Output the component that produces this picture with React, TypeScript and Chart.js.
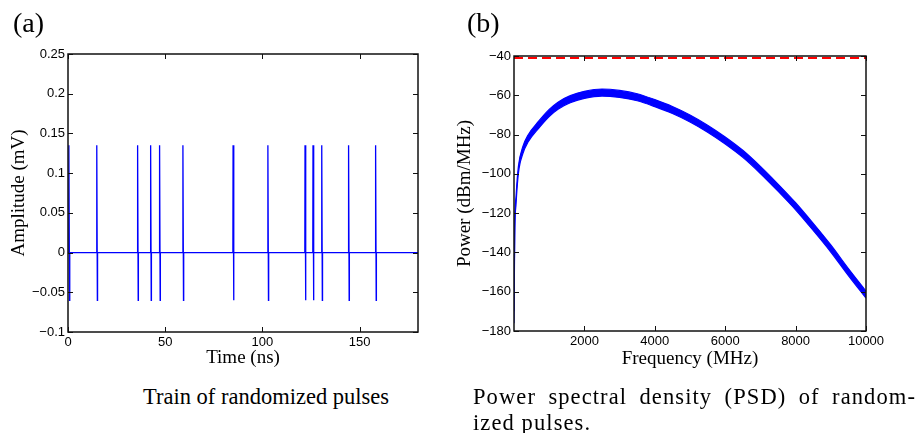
import React, { useEffect, useRef } from "react";
import { Chart, registerables } from "chart.js";

Chart.register(...registerables);

// ---------- Panel (a): train of randomized pulses ----------
const pulseTimes = [0.4, 14.7, 35.7, 42.4, 47.0, 59.0, 84.8, 102.7, 121.8, 125.9, 130.4, 144.2, 158.1];
const pulsePeak = 0.135;
const pulseTrough = -0.06;
const timeRange = [0, 180];
const timeTicks = [0, 50, 100, 150];
const ampRange = [-0.1, 0.25];
const ampTicks = [-0.1, -0.05, 0, 0.05, 0.1, 0.15, 0.2, 0.25];

// ---------- Panel (b): power spectral density (noise band: upper / lower edge) ----------
const freqMHz = [0, 20, 60, 125, 250, 400, 700, 1000, 1250, 1600, 2000, 2500, 3000, 3500, 4000, 4500, 5000, 5500, 6000, 6500, 7000, 7500, 8000, 8500, 9000, 9500, 10000];
const psdHigh = [-170, -127.5, -111, -96.2, -86.2, -80.2, -73.2, -67.2, -63.5, -60.2, -58.0, -56.8, -57.5, -59.2, -62.2, -65.7, -70.0, -75.2, -81.2, -88.0, -96.2, -105.2, -114.7, -125.2, -136.2, -148.2, -159.7];
const psdLow = [-176, -132.5, -115, -99.8, -89.8, -83.8, -76.8, -70.8, -67.1, -63.8, -61.6, -60.4, -61.1, -62.8, -65.8, -69.3, -73.6, -78.8, -84.8, -91.6, -99.8, -108.8, -118.3, -128.8, -139.8, -151.8, -163.3];
const refLevel = -41;
const freqRange = [0, 10000];
const freqTicks = [2000, 4000, 6000, 8000, 10000];
const powerRange = [-180, -40];
const powerTicks = [-180, -160, -140, -120, -100, -80, -60, -40];

const BLUE = "#0000ff";
const tickFont = { family: "'Liberation Sans', Arial, sans-serif", size: 13 };
const titleFont = { family: "'Liberation Serif', 'Times New Roman', serif", size: 19, lineHeight: 1 };

const fmt = (v: number) => {
  const r = Math.round(v * 1000) / 1000;
  if (r === 0) return "0";
  return String(r).replace("-", "\u2212");
};

const boxPlugin = {
  id: "matlabBox",
  afterDatasetsDraw(chart: any) {
    const { ctx, chartArea: a, scales } = chart;
    const L = 5;
    ctx.save();
    ctx.strokeStyle = "#111";
    ctx.lineWidth = 1;
    ctx.beginPath();
    scales.x.ticks.forEach((t: any) => {
      const px = Math.round(scales.x.getPixelForValue(t.value)) + 0.5;
      ctx.moveTo(px, a.bottom);
      ctx.lineTo(px, a.bottom - L);
      ctx.moveTo(px, a.top);
      ctx.lineTo(px, a.top + L);
    });
    scales.y.ticks.forEach((t: any) => {
      const py = Math.round(scales.y.getPixelForValue(t.value)) + 0.5;
      ctx.moveTo(a.left, py);
      ctx.lineTo(a.left + L, py);
      ctx.moveTo(a.right, py);
      ctx.lineTo(a.right - L, py);
    });
    ctx.stroke();
    ctx.lineWidth = 1.5;
    ctx.strokeStyle = "#111";
    ctx.strokeRect(a.left, a.top, a.right - a.left, a.bottom - a.top);
    ctx.restore();
  },
};

function axis(
  range: number[],
  ticks: number[],
  title: string,
  fitSize: number,
  isX: boolean,
  titlePad: number,
  hideZeroLabel = false
) {
  return {
    type: "linear",
    min: range[0],
    max: range[1],
    grid: { display: false, drawTicks: false },
    border: { display: false },
    afterBuildTicks: (s: any) => {
      s.ticks = ticks.map((v) => ({ value: v }));
    },
    afterFit: (s: any) => {
      if (isX) s.height = fitSize;
      else s.width = fitSize;
    },
    ticks: {
      font: tickFont,
      color: "#000",
      padding: 3,
      maxRotation: 0,
      autoSkip: false,
      callback: (v: any) => (hideZeroLabel && v === 0 ? "" : fmt(Number(v))),
    },
    title: {
      display: true,
      text: title,
      color: "#000",
      font: titleFont,
      padding: isX ? { top: 0, bottom: titlePad } : { top: titlePad, bottom: 0 },
    },
  };
}

function PulseChart() {
  const ref = useRef<HTMLCanvasElement>(null);
  useEffect(() => {
    const pts: { x: number; y: number }[] = [{ x: timeRange[0], y: 0 }];
    pulseTimes.forEach((t) => {
      pts.push({ x: t, y: 0 }, { x: t + 0.1, y: pulsePeak }, { x: t + 0.4, y: pulseTrough }, { x: t + 0.5, y: 0 });
    });
    pts.push({ x: timeRange[1], y: 0 });
    const chart = new Chart(ref.current as HTMLCanvasElement, {
      type: "line",
      data: {
        datasets: [
          {
            data: pts,
            borderColor: BLUE,
            borderWidth: 1.3,
            pointRadius: 0,
            tension: 0,
            fill: false,
          },
        ],
      },
      options: {
        responsive: false,
        animation: false,
        layout: { padding: { top: 54, right: 42, bottom: 0, left: 0 } },
        plugins: { legend: { display: false }, tooltip: { enabled: false } },
        scales: {
          x: axis(timeRange, timeTicks, "Time (ns)", 38, true, 2.5) as any,
          y: axis(ampRange, ampTicks, "Amplitude (mV)", 68, false, 9.5) as any,
        },
      },
      plugins: [boxPlugin],
    } as any);
    return () => chart.destroy();
  }, []);
  return (
    <canvas
      ref={ref}
      width={460}
      height={370}
      style={{ position: "absolute", left: 0, top: 0, width: 460, height: 370 }}
    />
  );
}

function PsdChart() {
  const ref = useRef<HTMLCanvasElement>(null);
  useEffect(() => {
    const hi = freqMHz.map((f, i) => ({ x: f, y: psdHigh[i] }));
    const lo = freqMHz.map((f, i) => ({ x: f, y: psdLow[i] }));
    const chart = new Chart(ref.current as HTMLCanvasElement, {
      type: "line",
      data: {
        datasets: [
          {
            data: hi,
            borderColor: BLUE,
            borderWidth: 1.2,
            pointRadius: 0,
            cubicInterpolationMode: "monotone",
            fill: false,
          },
          {
            data: lo,
            borderColor: BLUE,
            borderWidth: 1.2,
            pointRadius: 0,
            cubicInterpolationMode: "monotone",
            fill: "-1",
            backgroundColor: BLUE,
          },
          {
            data: [
              { x: freqRange[0], y: refLevel },
              { x: freqRange[1], y: refLevel },
            ],
            borderColor: "#ff0000",
            borderWidth: 2,
            borderDash: [9, 5],
            pointRadius: 0,
            fill: false,
          },
        ],
      },
      options: {
        responsive: false,
        animation: false,
        layout: { padding: { top: 56, right: 54, bottom: 0, left: 0 } },
        plugins: { legend: { display: false }, tooltip: { enabled: false } },
        scales: {
          x: axis(freqRange, freqTicks, "Frequency (MHz)", 39, true, 1.5, true) as any,
          y: axis(powerRange, powerTicks, "Power (dBm/MHz)", 74, false, 15.5) as any,
        },
      },
      plugins: [boxPlugin],
    } as any);
    return () => chart.destroy();
  }, []);
  return (
    <canvas
      ref={ref}
      width={480}
      height={370}
      style={{ position: "absolute", left: 440, top: 0, width: 480, height: 370 }}
    />
  );
}

const serif = "'Liberation Serif', 'Times New Roman', serif";

const captionStyle: React.CSSProperties = {
  position: "absolute",
  top: 384,
  fontFamily: serif,
  fontSize: 22.5,
  lineHeight: "26px",
  color: "#000",
};

export default function App() {
  return (
    <div
      style={{
        position: "absolute",
        left: 0,
        top: 0,
        width: 920,
        height: 433,
        background: "#fff",
        overflow: "hidden",
      }}
    >
      <PulseChart />
      <PsdChart />
      <div style={{ position: "absolute", left: 13, top: 9, fontFamily: serif, fontSize: 28, lineHeight: 1, color: "#000" }}>
        (a)
      </div>
      <div style={{ position: "absolute", left: 467, top: 9, fontFamily: serif, fontSize: 28, lineHeight: 1, color: "#000" }}>
        (b)
      </div>
      <div style={{ ...captionStyle, left: 143, whiteSpace: "pre" }}>Train of randomized pulses</div>
      <div style={{ ...captionStyle, left: 473, width: 443, letterSpacing: "1.1px" }}>
        <div style={{ textAlign: "justify", textAlignLast: "justify" as any }}>
          Power spectral density (PSD) of random-
        </div>
        <div>ized pulses.</div>
      </div>
    </div>
  );
}
